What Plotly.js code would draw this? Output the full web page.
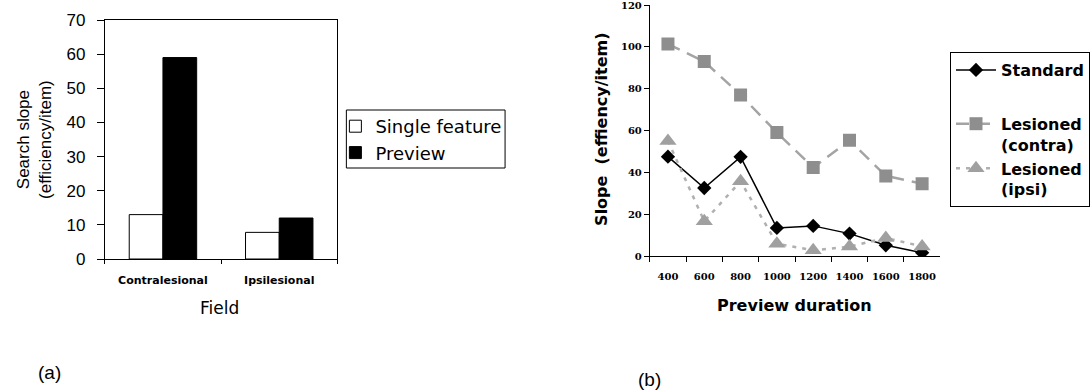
<!DOCTYPE html>
<html>
<head>
<meta charset="utf-8">
<script src="https://cdn.plot.ly/plotly-3.0.1.min.js"></script>
<style>html,body{margin:0;padding:0;background:#fff;}#chart{width:1090px;height:392px;}</style>
</head>
<body>
<div id="chart"></div>
<script>
// ---- Data (a) ----
const fieldCategories = ['Contralesional', 'Ipsilesional'];
const singleFeature = [13, 7.8];
const previewValues = [59, 12];

// ---- Data (b) ----
const previewDurations = ['400', '600', '800', '1000', '1200', '1400', '1600', '1800'];
const standard = [47.5, 32.5, 47.4, 13.4, 14.4, 10.7, 5.1, 1.6];
const lesionedContra = [101.3, 93, 77, 59, 42.3, 55.3, 38.3, 34.6];
const lesionedIpsi = [55, 16.6, 35.7, 5.9, 2.7, 4.5, 8.6, 4.6];

const W = 1090, H = 392;
const px = v => v / W;
const py = v => 1 - v / H;

const traces = [
  {type: 'bar', x: fieldCategories, y: singleFeature, name: 'Single feature',
   marker: {color: '#ffffff', line: {color: '#000', width: 1}}, xaxis: 'x', yaxis: 'y', legend: 'legend'},
  {type: 'bar', x: fieldCategories, y: previewValues, name: 'Preview',
   marker: {color: '#000000', line: {color: '#000', width: 1}}, xaxis: 'x', yaxis: 'y', legend: 'legend'},
  {type: 'scatter', mode: 'lines+markers', x: previewDurations, y: standard, name: 'Standard',
   line: {color: '#000', width: 1.5}, marker: {symbol: 'diamond', size: 11, color: '#000'},
   xaxis: 'x2', yaxis: 'y2', legend: 'legend2', legendgroup: 'g1'},
  {type: 'scatter', mode: 'lines+markers', x: previewDurations, y: lesionedContra, name: 'Lesioned<br>(contra)',
   line: {color: '#a4a4a4', width: 2.5, dash: '13px,8px'}, marker: {symbol: 'square', size: 13, color: '#8e8e8e'},
   xaxis: 'x2', yaxis: 'y2', legend: 'legend2', legendgroup: 'g2'},
  {type: 'scatter', mode: 'lines+markers', x: previewDurations, y: lesionedIpsi, name: 'Lesioned<br>(ipsi)',
   line: {color: '#b0b0b0', width: 2.5, dash: '4px,6px'}, marker: {symbol: 'triangle-up', size: 15, color: '#a0a0a0'},
   xaxis: 'x2', yaxis: 'y2', legend: 'legend2', legendgroup: 'g2'}
];

const sans = 'Liberation Sans, Arial, sans-serif';
const dejavu = 'DejaVu Sans, sans-serif';

function label(text, x, y, font, angle) {
  return {text: text, xref: 'paper', yref: 'paper', x: px(x), y: py(y), xanchor: 'center', yanchor: 'middle',
          textangle: angle || 0, showarrow: false, font: font};
}

const layout = {
  width: W, height: H,
  margin: {l: 0, r: 0, t: 0, b: 0},
  paper_bgcolor: '#fff', plot_bgcolor: '#fff',
  bargap: 0.42,
  showlegend: true,
  xaxis: {
    domain: [px(105), px(338)], anchor: 'y', type: 'category', range: [-0.5, 1.5],
    showline: true, linecolor: '#000', linewidth: 1, mirror: true, showgrid: false, zeroline: false,
    ticks: 'outside', tickson: 'boundaries', ticklen: 4, tickcolor: '#000', tickangle: 0,
    tickfont: {family: dejavu, size: 11, color: '#000', weight: 'bold'}, ticklabelstandoff: 11
  },
  yaxis: {
    domain: [py(259), py(20)], anchor: 'x', range: [0, 70], dtick: 10,
    showline: true, linecolor: '#000', linewidth: 1, mirror: true, showgrid: false, zeroline: false,
    ticks: 'outside', ticklen: 7, tickcolor: '#000', ticklabeloverflow: 'allow',
    tickfont: {family: sans, size: 17, color: '#000'}, ticklabelstandoff: 8
  },
  xaxis2: {
    domain: [px(651), px(942)], anchor: 'y2', type: 'category', range: [-0.5, 7.5],
    showline: true, linecolor: '#000', linewidth: 1, showgrid: false, zeroline: false,
    ticks: 'outside', tickson: 'boundaries', ticklen: 5, tickcolor: '#000', tickangle: 0,
    tickfont: {family: 'DejaVu Serif, serif', size: 10, color: '#000', weight: 'bold'}, ticklabelstandoff: 11
  },
  yaxis2: {
    domain: [py(256), py(5)], anchor: 'x2', range: [0, 120], dtick: 20,
    showline: true, linecolor: '#000', linewidth: 1, showgrid: false, zeroline: false,
    ticks: 'outside', ticklen: 5, tickcolor: '#000', ticklabeloverflow: 'allow',
    tickfont: {family: 'DejaVu Serif, serif', size: 10, color: '#000', weight: 'bold'}
  },
  legend: {
    x: px(336), y: py(108), xanchor: 'left', yanchor: 'top',
    borderwidth: 0, bgcolor: 'rgba(0,0,0,0)',
    font: {family: dejavu, size: 18, color: '#000'}, tracegroupgap: 0
  },
  legend2: {
    x: px(952), y: py(52), xanchor: 'left', yanchor: 'top',
    bordercolor: '#000', borderwidth: 1, bgcolor: '#fff', valign: 'top', itemwidth: 40,
    font: {family: dejavu, size: 16, color: '#000', weight: 'bold'},
    traceorder: 'grouped', tracegroupgap: 30
  },
  shapes: [
    {type: 'rect', xref: 'paper', yref: 'paper', x0: px(347), x1: px(506), y0: py(168), y1: py(110),
     line: {color: '#000', width: 1}, fillcolor: 'rgba(0,0,0,0)', layer: 'above'}
  ],
  annotations: [
    label('Search slope<br>(efficiency/item)', 34, 139, {family: sans, size: 17, color: '#000'}, -90),
    label('Field', 220, 308, {family: dejavu, size: 17, color: '#000'}),
    label('Slope&nbsp; (effiency/item)', 602, 129, {family: dejavu, size: 16, color: '#000', weight: 'bold'}, -90),
    label('Preview duration', 796, 305, {family: dejavu, size: 16, color: '#000', weight: 'bold'}),
    label('(a)', 50, 372, {family: sans, size: 19, color: '#000'}),
    label('(b)', 651, 379, {family: sans, size: 19, color: '#000'})
  ]
};

Plotly.newPlot('chart', traces, layout, {staticPlot: true, displayModeBar: false});
</script>
</body>
</html>
